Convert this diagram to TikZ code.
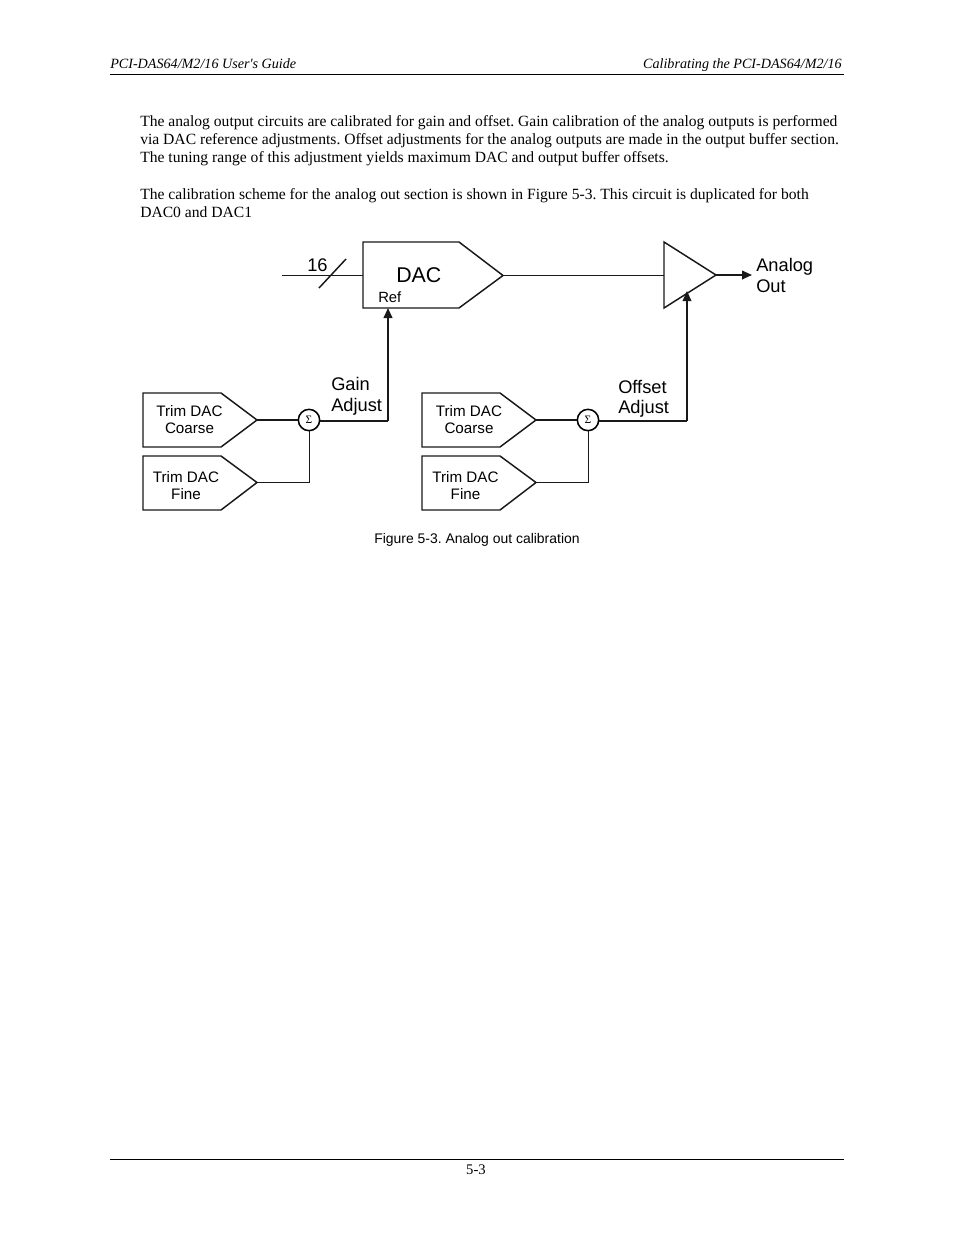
\documentclass[tikz,border=0pt]{standalone}
\usepackage{fontspec}
\setmainfont{Liberation Serif}
\newfontfamily\plainserif{Liberation Serif}
\newfontfamily\arialf{Liberation Sans}
\usetikzlibrary{arrows.meta}
\newcommand{\pxf}[2]{\fontsize{#1}{#2}\selectfont}
\tikzset{
  line/.style={draw=black!90, line width=1.1pt, line join=miter},
  heavy/.style={draw=black!90, line width=1.4pt},
  thinline/.style={draw=black!90, line width=0.7pt},
  arrowline/.style={heavy, -{Triangle[length=7.5pt,width=6.5pt]}},
  rule/.style={draw=black, line width=0.6pt},
  body/.style={anchor=base west, inner sep=0pt, font=\frenchspacing\pxf{11.7pt}{13pt}},
  hdr/.style={anchor=base, inner sep=0pt, font=\plainserif\pxf{10.6pt}{12pt}\itshape},
  lab/.style={inner sep=0pt, anchor=base west, font=\arialf\pxf{13.7pt}{16pt}},
  small/.style={inner sep=0pt, anchor=base, font=\arialf\pxf{11.4pt}{13pt}},
  sum/.style={circle, draw=black, line width=1.15pt, minimum size=16pt, inner sep=0pt, font=\plainserif\pxf{8.5pt}{9pt}},
}
\begin{document}
\begin{tikzpicture}[x=0.75pt,y=-0.75pt]
\useasboundingbox (0,0) rectangle (954,1235);
\fill[white] (0,0) rectangle (954,1235);
% header and footer
\coordinate (hl) at (110,74.5); \coordinate (hr) at (844,74.5);
\coordinate (fl) at (110,1159.5); \coordinate (fr) at (844,1159.5);
\draw[rule] (hl) -- (hr);
\draw[rule] (fl) -- (fr);
\node[hdr,anchor=base west] (h1) at (110,68) {PCI-DAS64/M2/16 User's Guide};
\node[hdr,anchor=base east] (h2) at (842,68) {Calibrating the PCI-DAS64/M2/16};
\node[anchor=base,inner sep=0pt,font=\pxf{11pt}{12pt}] (pg) at (476,1174) {5-3};
% body
\node[body] (t1) at (140,126) {The analog output circuits are calibrated for gain and offset. Gain calibration of the analog outputs is performed};
\node[body] (t2) at (140,144) {via DAC reference adjustments. Offset adjustments for the analog outputs are made in the output buffer section.};
\node[body] (t3) at (140,162) {The tuning range of this adjustment yields maximum DAC and output buffer offsets.};
\node[body] (t4) at (140,199) {The calibration scheme for the analog out section is shown in Figure 5-3. This circuit is duplicated for both};
\node[body] (t5) at (140,217) {DAC0 and DAC1};
% DAC
\coordinate (dacw) at (363,275.5);
\coordinate (dace) at (503,275.5);
\coordinate (dacref) at (388,308);
\draw[line] (363,242) -- (459,242) -- (dace) -- (459,308) -- (363,308) -- cycle;
\node[inner sep=0pt,anchor=base west,font=\arialf\pxf{16pt}{18pt}] (dactext) at (396,282.5) {DAC};
\node[inner sep=0pt,anchor=base west,font=\arialf\pxf{11.1pt}{13pt}] (reftext) at (378,302) {Ref};
\coordinate (in) at (282,275.5);
\draw[thinline] (in) -- (dacw);
\coordinate (sa) at (319,288); \coordinate (sb) at (346,259);
\draw[line] (sa) -- (sb);
\node[lab] (n16) at (307,271.5) {16};
% amp
\coordinate (ampw) at (664,275.5);
\coordinate (ampe) at (716,275);
\coordinate (ampb) at (687,291);
\draw[line] (664,242) -- (ampe) -- (664,308) -- cycle;
\draw[thinline] (dace) -- (ampw);
\coordinate (outp) at (752,275);
\draw[arrowline] (ampe) -- (outp);
\node[lab] (ao1) at (756,271) {Analog};
\node[lab] (ao2) at (756,292) {Out};
% left trims
\coordinate (c1t) at (257,420);
\coordinate (f1t) at (257,482.5);
\draw[line] (143,393) -- (221,393) -- (c1t) -- (221,447) -- (143,447) -- cycle;
\draw[line] (143,456) -- (221,456) -- (f1t) -- (221,510) -- (143,510) -- cycle;
\node[small] (c1a) at (189.5,416) {Trim DAC};
\node[small] (c1b) at (189.5,433) {Coarse};
\node[small] (f1a) at (186,482) {Trim DAC};
\node[small] (f1b) at (186,499) {Fine};
\node[sum] (s1) at (309,420) {Σ};
\draw[heavy] (c1t) -- (s1);
\draw[thinline] (f1t) -| (s1);
\coordinate (g1) at (388,421);
\draw[heavy] (s1.east |- g1) -- (g1);
\draw[arrowline] (g1) -- (dacref);
\node[lab] (ga1) at (331,390) {Gain};
\node[lab] (ga2) at (331,411) {Adjust};
% right trims
\coordinate (c2t) at (536,420);
\coordinate (f2t) at (536,482.5);
\draw[line] (422,393) -- (500,393) -- (c2t) -- (500,447) -- (422,447) -- cycle;
\draw[line] (422,456) -- (500,456) -- (f2t) -- (500,510) -- (422,510) -- cycle;
\node[small] (c2a) at (469,416) {Trim DAC};
\node[small] (c2b) at (469,433) {Coarse};
\node[small] (f2a) at (465.5,482) {Trim DAC};
\node[small] (f2b) at (465.5,499) {Fine};
\node[sum] (s2) at (588,420) {Σ};
\draw[heavy] (c2t) -- (s2);
\draw[thinline] (f2t) -| (s2);
\coordinate (g2) at (687,421);
\draw[heavy] (s2.east |- g2) -- (g2);
\draw[arrowline, line width=1pt] (g2) -- (ampb);
\node[lab] (oa1) at (618,393) {Offset};
\node[lab] (oa2) at (618,413) {Adjust};
% caption
\node[anchor=base,inner sep=0pt,font=\frenchspacing\arialf\pxf{10.45pt}{13pt}] (cap) at (477,543) {Figure 5-3. Analog out calibration};
\end{tikzpicture}
\end{document}
